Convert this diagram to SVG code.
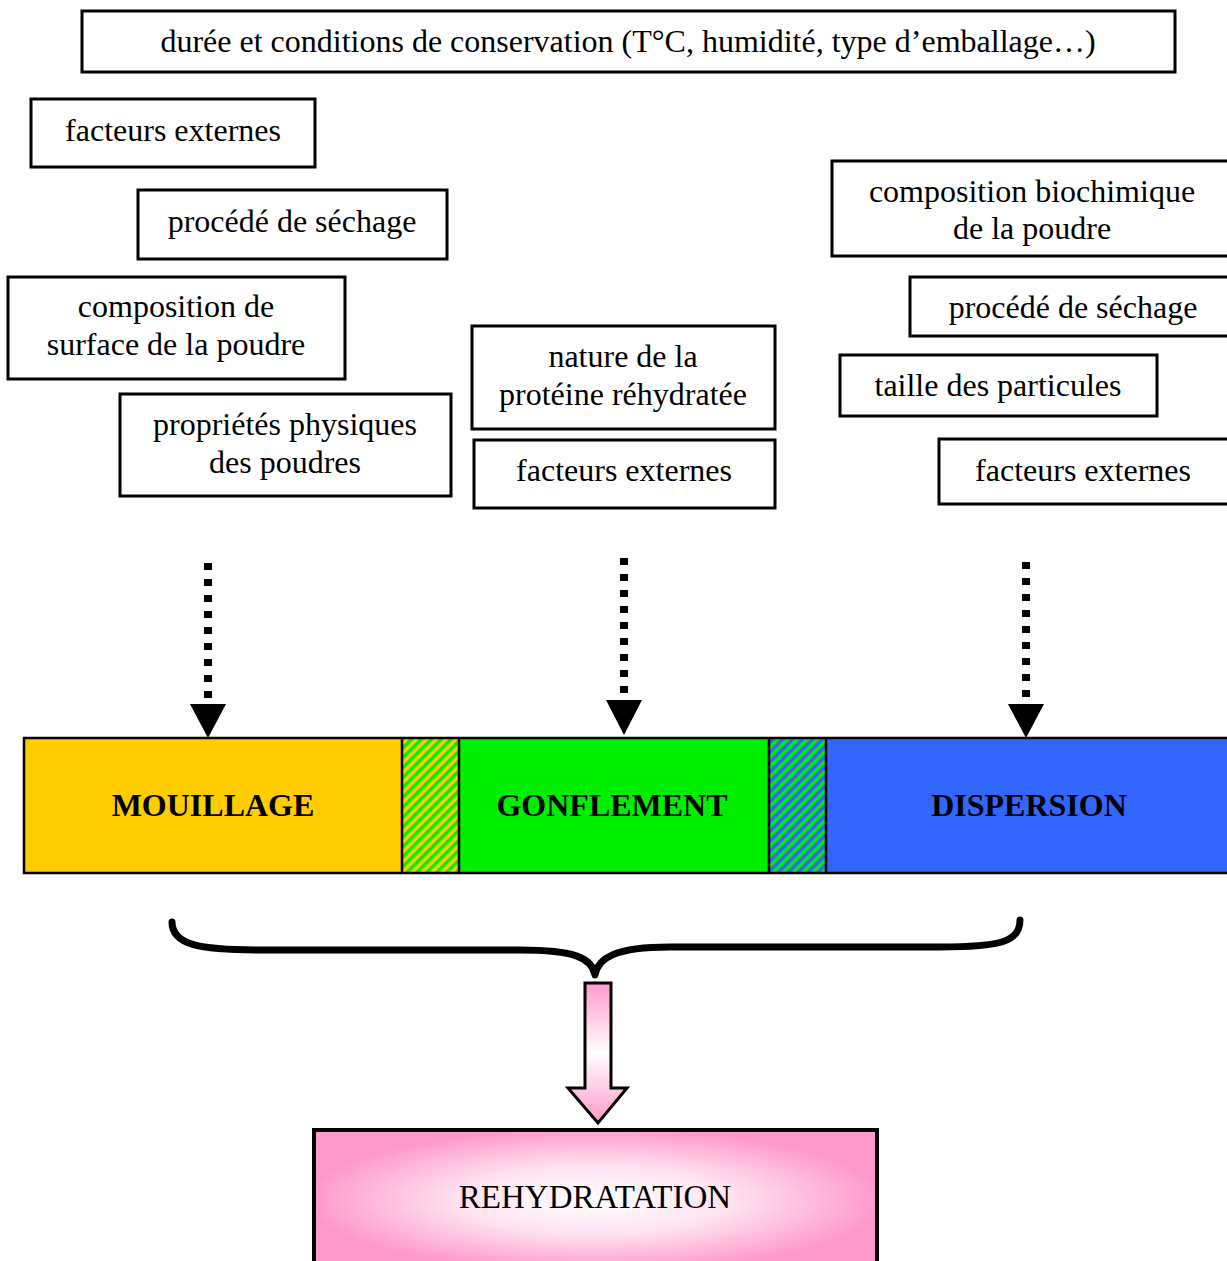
<svg xmlns="http://www.w3.org/2000/svg" width="1227" height="1261" viewBox="0 0 1227 1261">
<style>
.box{fill:#fff;stroke:#000;stroke-width:3}
.t{font-family:"Liberation Serif","Times New Roman",serif;font-size:32px;fill:#000;text-anchor:middle}
.b{font-family:"Liberation Serif","Times New Roman",serif;font-size:32px;font-weight:bold;fill:#000;text-anchor:middle}
.dot{stroke:#000;stroke-width:8;stroke-dasharray:7 9;fill:none}
.seg{stroke:#000;stroke-width:2.5}
</style>
<defs>
<pattern id="h1" width="7" height="7" patternUnits="userSpaceOnUse" patternTransform="rotate(45)">
<rect width="7" height="7" fill="#FFCC00"/><rect width="3.5" height="7" fill="#00EE00"/>
</pattern>
<pattern id="h2" width="7" height="7" patternUnits="userSpaceOnUse" patternTransform="rotate(45)">
<rect width="7" height="7" fill="#3366FF"/><rect width="3.5" height="7" fill="#00EE00"/>
</pattern>
<radialGradient id="pinkbox" cx="0.5" cy="0.5" r="0.6">
<stop offset="0" stop-color="#FFFFFF"/>
<stop offset="0.4" stop-color="#FFE3F0"/>
<stop offset="0.85" stop-color="#FF99CC"/>
</radialGradient>
<linearGradient id="pinkarrow" x1="0" y1="0" x2="0" y2="1">
<stop offset="0" stop-color="#FF99CC"/>
<stop offset="0.5" stop-color="#FFFFFF"/>
<stop offset="1" stop-color="#FF99CC"/>
</linearGradient>
</defs>

<g id="conservation"><rect class="box" x="82" y="11" width="1093" height="61"/><text class="t" x="628" y="52">durée et conditions de conservation (T°C, humidité, type d’emballage…)</text></g>

<g id="facteurs1"><rect class="box" x="31" y="99" width="284" height="68"/><text class="t" x="173" y="141">facteurs externes</text></g>
<g id="procede1"><rect class="box" x="138" y="190" width="309" height="69"/><text class="t" x="292" y="232">procédé de séchage</text></g>
<g id="surface"><rect class="box" x="8" y="277" width="337" height="102"/><text class="t" x="176" y="317">composition de</text><text class="t" x="176" y="355">surface de la poudre</text></g>
<g id="physiques"><rect class="box" x="120" y="394" width="331" height="102"/><text class="t" x="285" y="435">propriétés physiques</text><text class="t" x="285" y="473">des poudres</text></g>

<g id="nature"><rect class="box" x="472" y="326" width="303" height="103"/><text class="t" x="623" y="367">nature de la</text><text class="t" x="623" y="405">protéine réhydratée</text></g>
<g id="facteurs2"><rect class="box" x="474" y="440" width="301" height="68"/><text class="t" x="624" y="481">facteurs externes</text></g>

<g id="biochimique"><rect class="box" x="832" y="161" width="400" height="95"/><text class="t" x="1032" y="202">composition biochimique</text><text class="t" x="1032" y="239">de la poudre</text></g>
<g id="procede2"><rect class="box" x="910" y="277" width="320" height="59"/><text class="t" x="1073" y="318">procédé de séchage</text></g>
<g id="taille"><rect class="box" x="840" y="355" width="317" height="61"/><text class="t" x="998" y="396">taille des particules</text></g>
<g id="facteurs3"><rect class="box" x="939" y="439" width="290" height="65"/><text class="t" x="1083" y="481">facteurs externes</text></g>

<g id="bar">
<rect x="24" y="738" width="378" height="135" fill="#FFCC00"/>
<rect x="402" y="738" width="57" height="135" fill="url(#h1)"/>
<rect x="459" y="738" width="310" height="135" fill="#00EE00"/>
<rect x="769" y="738" width="57" height="135" fill="url(#h2)"/>
<rect x="826" y="738" width="404" height="135" fill="#3366FF"/>
<rect x="24" y="738" width="1206" height="135" fill="none" stroke="#000" stroke-width="2.5"/>
<line class="seg" x1="402" y1="738" x2="402" y2="873"/>
<line class="seg" x1="459" y1="738" x2="459" y2="873"/>
<line class="seg" x1="769" y1="738" x2="769" y2="873"/>
<line class="seg" x1="826" y1="738" x2="826" y2="873"/>
</g>
<g id="mouillage"><text class="b" x="213" y="816">MOUILLAGE</text></g>
<g id="gonflement"><text class="b" x="612" y="816">GONFLEMENT</text></g>
<g id="dispersion"><text class="b" x="1029" y="816">DISPERSION</text></g>

<g id="connectors">
<line class="dot" x1="208" y1="563" x2="208" y2="700"/>
<polygon points="190,704 226,704 208,738" fill="#000"/>
<line class="dot" x1="624" y1="558" x2="624" y2="696"/>
<polygon points="606,700 642,700 624,735" fill="#000"/>
<line class="dot" x1="1026" y1="562" x2="1026" y2="700"/>
<polygon points="1008,704 1044,704 1026,738" fill="#000"/>
<path d="M172,922 C172,945 200,950 260,950 L520,950 C575,950 592,958 595,975 C598,958 615,947 670,947 L940,947 C1000,947 1020,942 1020,920" fill="none" stroke="#000" stroke-width="7" stroke-linecap="round" stroke-linejoin="round"/>
<path d="M585,983 L611,983 L611,1088 L627,1088 L598,1123 L568,1088 L585,1088 Z" fill="url(#pinkarrow)" stroke="#000" stroke-width="3"/>
</g>

<g id="rehydratation"><rect x="314" y="1130" width="563" height="140" fill="url(#pinkbox)" stroke="#000" stroke-width="4"/><text class="t" x="595" y="1208" style="font-size:33px">REHYDRATATION</text></g>
</svg>
